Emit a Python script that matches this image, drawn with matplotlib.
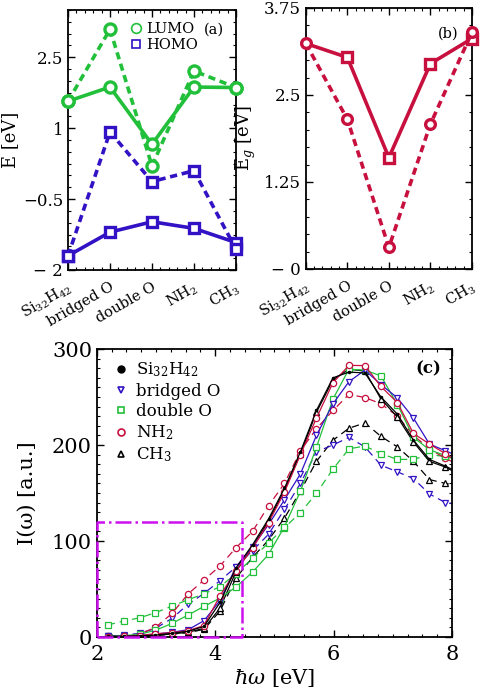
import numpy as np
import matplotlib
matplotlib.use('Agg')
import matplotlib.pyplot as plt
import matplotlib.transforms as mtransforms
from matplotlib.ticker import MultipleLocator

plt.rcParams['font.family'] = ['DejaVu Serif']
plt.rcParams['mathtext.fontset'] = 'dejavuserif'

# ---- panels (a), (b): levels per structure ----
structures = ['Si$_{32}$H$_{42}$', 'bridged O', 'double O', 'NH$_2$', 'CH$_3$']
lumo_solid = [1.57, 1.87, 0.66, 1.87, 1.86]
lumo_dash = [1.57, 3.09, 0.20, 2.21, 1.86]
homo_solid = [-1.70, -1.20, -0.98, -1.12, -1.42]
homo_dash = [-1.70, 0.92, -0.13, 0.10, -1.56]
gap_solid = [3.24, 3.04, 1.60, 2.95, 3.31]
gap_dash = [3.24, 2.15, 0.31, 2.08, 3.40]

# ---- panel (c): spectra ----
omega = [2.18, 2.45, 2.72, 2.99, 3.27, 3.54, 3.81, 4.08, 4.35, 4.63, 4.90, 5.17,
         5.44, 5.71, 5.99, 6.26, 6.53, 6.80, 7.08, 7.35, 7.62, 7.89, 8.16]
si_h = [0.6, 0.8, 1.2, 2.0, 3.8, 6.0, 11, 36, 72, 96, 123, 155,
        193, 236, 270, 276, 275, 250, 232, 205, 185, 178, 170]
bo_solid = [0.7, 1.0, 1.5, 3.0, 5.0, 7.6, 17, 38, 73, 94, 117, 143,
            170, 210, 243, 266, 278, 263, 249, 228, 201, 194, 187]
bo_dash = [1.0, 2.0, 3.8, 9.0, 19.5, 34, 45.5, 58.6, 73, 90, 107, 133,
           160, 193, 200, 208, 198, 179, 172, 165, 149, 140, 138]
do_solid = [1.0, 1.4, 2.8, 7.0, 14.2, 22.9, 31.9, 40.6, 52, 67.6, 86, 115,
            152, 197.6, 248, 279, 278, 272, 242, 208, 195, 189, 182]
do_dash = [12.5, 16.6, 20, 25.3, 32.3, 38.8, 45, 52.4, 66, 82, 98, 114,
           129.5, 149.7, 175, 196, 199, 191, 185, 185, 190, 188, 186]
nh2_solid = [0.3, 0.6, 1.4, 3.5, 4.5, 6.6, 12, 43, 69, 92.6, 119, 151,
             190, 228, 265, 283, 282.7, 261, 244, 212, 201, 191, 180]
nh2_dash = [0.7, 1.4, 3.0, 10, 24.6, 44.8, 59.4, 74, 93, 110, 136.7, 160,
            194, 217, 236, 252.8, 249.4, 243, 230, 210, 196, 186, 178]
ch3_solid = [0.4, 0.6, 0.9, 1.6, 3.2, 5.0, 9, 30, 68, 94, 121, 153,
             191, 234, 268, 279, 277, 248, 229, 203, 183, 177, 168]
ch3_dash = [0.5, 0.7, 1.0, 1.5, 3.0, 4.5, 8, 27, 61.4, 83, 101, 124,
            152, 183, 205, 217.5, 223, 209, 198, 183, 164, 160, 157]
zoom_box = [2.0, 4.46, 0, 120]

green = '#22c03a'
blue = '#3212c4'
crimson = '#c8103f'
magenta = '#cc11ee'

fig = plt.figure(figsize=(4.87, 6.94), dpi=100)
axa = fig.add_axes([0.1396, 0.611, 0.345, 0.3746])
axb = fig.add_axes([0.628, 0.6124, 0.341, 0.3761])
axc = fig.add_axes([0.199, 0.0821, 0.729, 0.4150])

def style(ax, fs=12):
    ax.tick_params(which='both', direction='in', top=True, right=True, labelsize=fs)
    ax.tick_params(which='major', length=5, width=1)
    ax.tick_params(which='minor', length=2.5, width=0.8)
    for s in ax.spines.values():
        s.set_linewidth(1.3)

def cat_labels(ax):
    ax.set_xticks(xs)
    ax.set_xticklabels(structures, rotation=30, ha='right', va='top', fontsize=10.5)
    ax.tick_params(axis='x', pad=7)
    off = mtransforms.ScaledTranslation(0.07, 0, fig.dpi_scale_trans)
    for lab in ax.get_xticklabels():
        lab.set_transform(lab.get_transform() + off)

xs = np.arange(len(structures))
dsh = (0, (2.0, 1.3))
kw = dict(lw=2.6, mew=2.4, mfc='white', clip_on=False, zorder=3)

# ---- (a) ----
axa.plot(xs, lumo_solid, '-o', color=green, ms=8, **kw)
axa.plot(xs, lumo_dash, 'o', ls=dsh, color=green, ms=8, **kw)
axa.plot(xs, homo_solid, '-s', color=blue, ms=7, **kw)
axa.plot(xs, homo_dash, 's', ls=dsh, color=blue, ms=7, **kw)
axa.set_xlim(0, 4)
axa.set_ylim(-2, 3.5)
axa.set_yticks([-2, -0.5, 1, 2.5])
axa.set_yticklabels(['\u2212 2', '\u22120.5', '1', '2.5'])
axa.yaxis.set_minor_locator(MultipleLocator(0.25))
axa.xaxis.set_minor_locator(MultipleLocator(0.2))
style(axa)
cat_labels(axa)
axa.set_ylabel('E [eV]', fontsize=13)
axa.yaxis.set_label_coords(-0.29, 0.5)
h1, = axa.plot([], [], 'o', color=green, mfc='none', ms=7, mew=1.2)
h2, = axa.plot([], [], 's', color=blue, mfc='none', ms=6, mew=1.2)
axa.legend([h1, h2], ['LUMO', 'HOMO'], loc='upper left', bbox_to_anchor=(0.3, 1.0),
           frameon=False, handlelength=0.8, handletextpad=0.3, labelspacing=0.15,
           fontsize=10.5, borderaxespad=0.4)
axa.text(0.93, 0.925, '(a)', transform=axa.transAxes, ha='right', va='center', fontsize=10.5)

# ---- (b) ----
axb.plot(xs, gap_solid, '-s', color=crimson, ms=7, markevery=[1, 2, 3, 4], **kw)
axb.plot(xs, gap_dash, 'o', ls=dsh, color=crimson, ms=7, **kw)
axb.set_xlim(0, 4)
axb.set_ylim(0, 3.75)
axb.set_yticks([0, 1.25, 2.5, 3.75])
axb.set_yticklabels(['\u2212 0', '1.25', '2.5', '3.75'])
axb.yaxis.set_minor_locator(MultipleLocator(0.25))
axb.xaxis.set_minor_locator(MultipleLocator(0.2))
style(axb)
cat_labels(axb)
axb.set_ylabel('E$_g$ [eV]', fontsize=13)
axb.yaxis.set_label_coords(-0.29, 0.5)
axb.text(0.92, 0.90, '(b)', transform=axb.transAxes, ha='right', va='center', fontsize=10.5)

# ---- (c) ----
ck = dict(lw=0.9, ms=4.5, mfc='white', mew=0.9)
axc.plot(omega, ch3_dash, '^', ls=(0, (6, 4)), color='black', **ck)
axc.plot(omega, bo_dash, 'v', ls=(0, (6, 4)), color=blue, **ck)
axc.plot(omega, do_dash, 's', ls=(0, (6, 4)), color=green, ms=4, lw=0.9, mfc='white', mew=0.9)
axc.plot(omega, nh2_dash, 'o', ls=(0, (6, 4)), color=crimson, **ck)
axc.plot(omega, ch3_solid, '-^', color='black', **ck)
axc.plot(omega, do_solid, '-s', color=green, ms=4, lw=0.9, mfc='white', mew=0.9)
axc.plot(omega, bo_solid, '-v', color=blue, **ck)
axc.plot(omega, nh2_solid, '-o', color=crimson, **ck)
axc.plot(omega, si_h, '-', color='black', lw=0.9, marker='.', ms=3)
bx = [zoom_box[0], zoom_box[1], zoom_box[1], zoom_box[0], zoom_box[0]]
by = [zoom_box[2], zoom_box[2], zoom_box[3], zoom_box[3], zoom_box[2]]
axc.plot(bx, by, ls='-.', color=magenta, lw=1.8, clip_on=False, zorder=5)
axc.set_xlim(2, 8)
axc.set_ylim(0, 300)
axc.set_xticks([2, 4, 6, 8])
axc.set_yticks([0, 100, 200, 300])
axc.xaxis.set_minor_locator(MultipleLocator(0.25))
axc.yaxis.set_minor_locator(MultipleLocator(10))
style(axc, fs=15)
axc.tick_params(axis='x', pad=6)
axc.set_xlabel(r'$\hbar\omega$ [eV]', fontsize=15)
axc.xaxis.set_label_coords(0.5, -0.105)
axc.set_ylabel('I(\u03c9) [a.u.]', fontsize=15)
axc.yaxis.set_label_coords(-0.17, 0.5)
axc.text(0.97, 0.93, '(c)', transform=axc.transAxes, ha='right', va='center',
         fontsize=12, fontweight='bold')
lh = [axc.plot([], [], 'o', color='black', ms=5)[0],
      axc.plot([], [], 'v', color=blue, mfc='white', ms=5, mew=1.2)[0],
      axc.plot([], [], 's', color=green, mfc='white', ms=5, mew=1.2)[0],
      axc.plot([], [], 'o', color=crimson, mfc='white', ms=5, mew=1.2)[0],
      axc.plot([], [], '^', color='black', mfc='white', ms=5, mew=1.2)[0]]
axc.legend(lh, ['Si$_{32}$H$_{42}$', 'bridged O', 'double O', 'NH$_2$', 'CH$_3$'],
           loc='upper left', frameon=False, handlelength=0.6, handletextpad=0.6,
           labelspacing=0.2, fontsize=12, borderaxespad=0.3, bbox_to_anchor=(0.02, 1.0))

fig.savefig('out.png', dpi=100)
